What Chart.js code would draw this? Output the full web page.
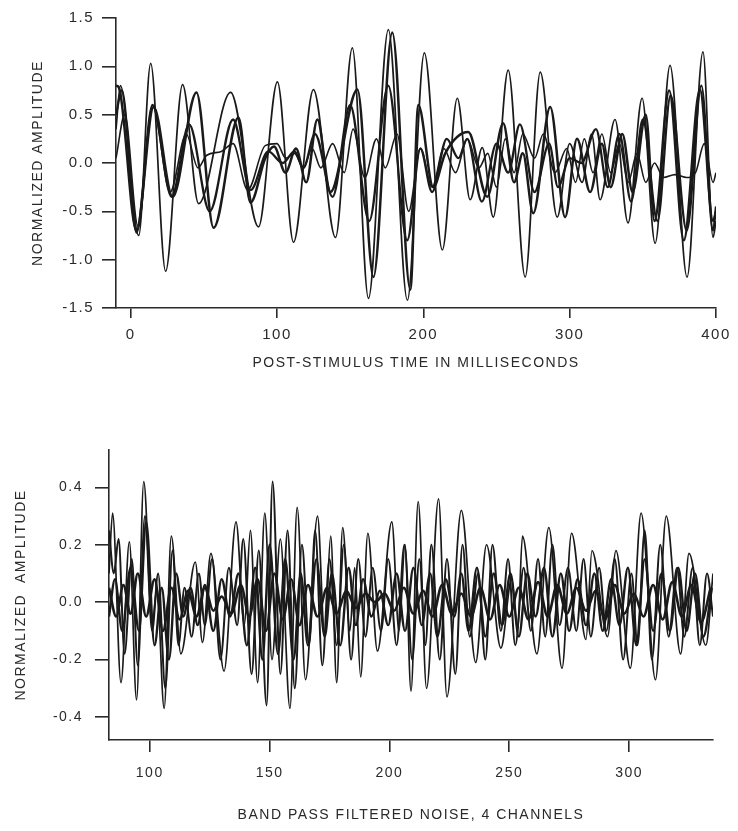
<!DOCTYPE html>
<html>
<head>
<meta charset="utf-8">
<script src="https://cdn.jsdelivr.net/npm/chart.js@4/dist/chart.umd.min.js"></script>
<style>
  html, body { margin: 0; padding: 0; background: #fff; }
  #wrap { position: relative; width: 738px; height: 831px; }
  canvas { position: absolute; left: 0; }
  #top { top: 0; }
  #bottom { top: 385px; }
</style>
</head>
<body>
<div id="wrap">
  <canvas id="top" width="738" height="385"></canvas>
  <canvas id="bottom" width="738" height="446"></canvas>
</div>
<script>
// ---- top panel: evoked responses, 4 traces (peaks/troughs)
const topXTicks = [0, 100, 200, 300, 400];
const topYTicks = [-1.5, -1.0, -0.5, 0.0, 0.5, 1.0, 1.5];

const respA_t = [-10, -7, 5.5, 13.7, 23.9, 35.5, 46.4, 68.3, 87.4, 100.3, 111.3, 124.9, 140, 151.5, 162.5, 176.1, 189.1, 200.7, 213, 223.2, 232, 240.3, 247.8, 258, 269.6, 279.9, 291.5, 300, 308.5, 315, 320.8, 331, 339.9, 349.5, 358.4, 368.6, 380.2, 391.1, 398, 400];
const respA_v = [.35, .8, -.75, 1.03, -1.12, .81, -.42, .73, -.66, .84, -.82, .76, -.77, 1.19, -1.4, 1.38, -1.42, 1.14, -.9, .67, -.38, .16, -.56, .96, -1.18, .94, -.56, .2, -.2, .3, -.38, .45, -.62, .67, -.83, 1.01, -1.18, 1.15, -.77, -.6];

const respB_t = [-10, -8, 4, 15.7, 28.7, 45, 56.7, 73.7, 81.9, 92, 98, 105.8, 113, 120, 127.6, 136.5, 155, 165.9, 178.8, 191.1, 196.6, 206.8, 215, 230.7, 243.7, 254.6, 262, 268, 275.1, 286.7, 296.9, 305, 314, 322, 328, 336, 343, 352, 358, 368, 378, 389, 398, 400];
const respB_v = [.8, .78, -.7, .58, -.35, .73, -.67, .47, -.41, .05, .17, -.1, .15, -.2, .45, -.3, .76, -1.18, 1.35, -1.31, .6, -.25, .1, .32, -.35, .41, -.2, .1, -.52, .58, -.56, .25, -.3, .2, -.25, .3, -.3, .5, -.6, .75, -.8, .76, -.6, -.5];

const respC_t = [-10, -4, 5, 15, 27, 38, 46, 52, 62, 70, 80, 92, 100, 106, 112, 118, 124, 130, 138, 146, 152, 160, 168, 174, 182, 190, 198, 206, 214, 222, 230, 238, 244, 250, 256, 262, 268, 276, 282, 290, 298, 304, 310, 316, 322, 328, 334, 340, 346, 352, 358, 364, 372, 380, 386, 392, 398, 400];
const respC_v = [.05, .5, -.65, .6, -.3, .3, -.05, .08, .12, .2, -.28, .18, .2, .05, .1, -.05, .15, -.05, .2, -.1, .35, -.15, .25, -.05, .3, -.5, .15, -.25, .15, -.1, .25, -.05, .1, -.25, .25, -.1, .3, .05, .3, -.1, .15, -.2, .25, -.1, .3, -.1, .2, -.2, .1, -.2, 0, -.15, -.12, -.15, -.1, .2, -.2, -.1];

const respD_t = [-10, -6, 4, 15, 28, 40, 54, 70, 82, 94, 104, 112, 118, 126, 138, 150, 163, 176, 189, 198, 206, 216, 224, 230, 240, 250, 258, 266, 276, 286, 292, 300, 308, 318, 326, 334, 342, 350, 360, 369, 380, 390, 398, 400];
const respD_v = [.5, .75, -.72, .6, -.35, .4, -.5, .45, -.28, .12, 0, .12, -.05, .3, -.35, .6, -.6, .8, -.8, .15, -.3, .25, .05, .25, -.4, .2, -.1, .4, -.3, .2, -.25, .05, 0, .35, -.25, .3, -.4, .45, -.6, .7, -.7, .8, -.7, -.45];

// ---- bottom panel: band pass filtered noise, 4 channels
const noiseXTicks = [100, 150, 200, 250, 300];
const noiseYTicks = [-0.4, -0.2, 0.0, 0.2, 0.4];

const noiseA_t = [83, 84.5, 88, 91.5, 94.5, 97.5, 101, 103, 106, 109, 113, 119, 122, 125.5, 131, 136, 139.5, 142, 145, 148, 151, 154.5, 158.5, 161.5, 165, 170, 173, 175.5, 178, 180.5, 183.5, 185.5, 188, 191, 195, 201, 204, 206.5, 209, 212, 215.5, 220.5, 224, 230, 236, 240.5, 246.5, 251, 253.5, 255.5, 261.5, 266.5, 272, 276, 282, 284.5, 291, 294.5, 300.5, 305, 311, 315.5, 321.5, 325, 332, 335];
const noiseA_v = [.1, .31, -.28, .21, -.34, .42, -.08, .05, -.37, .23, -.18, .14, -.14, .17, -.24, .28, -.08, .25, -.28, .31, -.2, .22, -.37, .33, -.27, .30, -.12, .23, -.28, .26, -.1, .12, -.26, .24, -.17, .28, -.1, .2, -.31, .35, -.3, .36, -.33, .32, -.21, .2, -.16, .08, -.1, .23, -.18, .26, -.23, .24, -.13, .18, -.12, .18, -.23, .31, -.27, .30, -.18, .17, -.15, .1];

const noiseB_t = [83, 85, 87, 89.5, 92.5, 95, 98, 101, 103.5, 106.5, 109.5, 112, 114.5, 117.5, 120.5, 123, 126, 129.5, 133, 136.5, 139, 142.5, 145.5, 148.75, 151.25, 154.5, 157.5, 160.5, 163.5, 166.5, 169, 172, 175, 178, 181, 184, 187, 190, 193, 196.5, 199.5, 203, 206.25, 209.5, 212.5, 215, 217.5, 221, 224, 227.5, 230.5, 233.5, 237, 240, 243, 246.5, 249.5, 252.5, 256, 259, 262, 265, 268, 271, 274.5, 278, 281, 284, 287.5, 290.5, 294, 297.5, 301, 303.5, 306.5, 309.5, 313, 316.5, 320, 323, 326.5, 329.5, 332.5, 335];
const noiseB_v = [.25, .1, .22, -.18, .15, -.22, .3, -.1, .1, -.3, .18, -.15, .05, -.12, .1, -.08, .15, -.2, .12, -.08, .22, -.25, .18, -.36, .42, -.25, .25, -.3, .2, -.15, .25, -.22, .15, -.15, .2, -.2, .15, -.12, .12, -.1, .15, -.15, .2, -.2, .15, -.15, .2, -.2, .15, -.25, .2, -.12, .1, -.2, .2, -.1, .15, -.15, .12, -.1, .15, -.12, .2, -.08, .12, -.1, .15, -.12, .12, -.1, .15, -.2, .1, -.15, .25, -.2, .2, -.12, .12, -.12, .12, -.15, .1, -.05];

const noiseC_t = [83, 85.5, 88.5, 92, 95.5, 98.5, 102, 105, 108, 111, 114, 117, 120, 123, 126.5, 130, 133.5, 137, 140.5, 144, 147, 150, 153.5, 156.5, 160, 163, 166, 169.5, 173, 176, 179.5, 183, 186, 189, 192.5, 196, 199.5, 203, 206.5, 210, 213.5, 217, 220, 223.5, 227, 230, 233, 236.5, 240, 243.5, 247, 250.5, 254, 257.5, 261, 264.5, 268, 271.5, 275, 278.5, 282, 285.5, 289, 292.5, 296, 299.5, 303, 306.5, 310, 313.5, 317, 320.5, 324, 327.5, 331, 334.5];
const noiseC_v = [-.05, .08, -.1, .12, -.1, .28, -.15, .05, -.2, .1, -.05, .05, -.08, .06, -.1, .08, -.05, .1, -.15, .12, -.2, .2, -.18, .15, -.2, .1, -.15, .15, -.12, .1, -.15, .12, -.08, .08, -.05, .04, -.08, .1, -.1, .12, -.08, .1, -.12, .08, -.05, .1, -.1, .12, -.12, .1, -.08, .1, -.12, .1, -.05, .12, -.12, .1, -.1, .08, -.08, .1, -.1, .08, -.08, .12, -.15, .15, -.1, .1, -.1, .12, -.1, .1, -.12, .05];

const noiseD_t = [83, 86, 89, 92, 95, 98.5, 102, 105.5, 109, 112.5, 116, 119.5, 123, 126.5, 130, 134, 138, 141.5, 145, 148.5, 152, 155.5, 159, 162.5, 166, 170, 174, 178, 182, 186, 190, 194, 198, 202, 206, 210, 214, 218, 222, 226, 230, 234, 238, 242, 246, 250, 254, 258, 262, 266, 270, 274, 278, 282, 286, 290, 294, 298, 302, 306, 310, 314, 318, 322, 326, 330, 334];
const noiseD_v = [.05, -.05, .06, -.04, .1, -.05, .08, -.1, .05, -.06, .04, -.05, .05, -.03, .02, -.04, .06, -.05, .08, -.1, .1, -.06, .08, -.08, .06, -.05, .05, -.04, .04, -.02, .03, 0, .03, -.03, .05, -.04, .04, -.05, .06, -.04, .03, -.05, .05, -.06, .06, -.05, .05, -.06, .07, -.05, .06, -.04, .05, -.03, .04, -.06, .06, -.04, .03, -.05, .06, -.06, .07, -.05, .06, -.07, .05];

const INK = '#1a1a1a';
const TEXT = '#2a2a2a';
const FONT = 'Liberation Sans, Arial';

function pts(t, v) { return t.map((x, i) => ({ x, y: v[i] })); }

function trace(t, v, width) {
  return {
    data: pts(t, v),
    borderColor: INK,
    borderWidth: width,
    pointRadius: 0,
    fill: false,
    cubicInterpolationMode: 'monotone'
  };
}

// scanned lettering is quite wide, so space the glyphs out a bit
const spacing = {
  id: 'spacing',
  beforeDraw(chart) { chart.ctx.letterSpacing = '1.5px'; }
};

function axes(o) {
  const axisLine = { display: true, color: TEXT, width: 1.6 };
  return {
    x: {
      type: 'linear', min: o.xMin, max: o.xMax,
      afterBuildTicks: s => { s.ticks = o.xTicks.map(value => ({ value })); },
      afterFit: s => { s.height = o.xHeight; },
      border: axisLine,
      grid: { drawOnChartArea: false, drawTicks: true, tickLength: o.xTickLen, color: TEXT, lineWidth: 1.6 },
      ticks: { autoSkip: false, maxRotation: 0, padding: o.xPad, color: TEXT, font: { family: FONT, size: o.tickSize } },
      title: { display: true, text: o.xTitle, color: TEXT, font: { family: FONT, size: 14 }, padding: { top: 0, bottom: o.xTitlePad } }
    },
    y: {
      type: 'linear', min: o.yMin, max: o.yMax,
      afterBuildTicks: s => { s.ticks = o.yTicks.map(value => ({ value })); },
      afterFit: s => { s.width = o.yWidth; },
      border: axisLine,
      grid: { drawOnChartArea: false, drawTicks: true, tickLength: 14, color: TEXT, lineWidth: 1.6 },
      ticks: { autoSkip: false, padding: o.yPad, color: TEXT, font: { family: FONT, size: o.tickSize }, callback: v => Number(v).toFixed(1) },
      title: { display: true, text: o.yTitle, color: TEXT, font: { family: FONT, size: 14 }, padding: { top: o.yTitlePad, bottom: 0 } }
    }
  };
}

const common = {
  responsive: false,
  animation: false,
  devicePixelRatio: 1,
  plugins: { legend: { display: false }, tooltip: { enabled: false } }
};

new Chart(document.getElementById('top'), {
  type: 'line',
  data: {
    datasets: [
      trace(respA_t, respA_v, 1.7),
      trace(respB_t, respB_v, 2.5),
      trace(respC_t, respC_v, 1.6),
      trace(respD_t, respD_v, 2.3)
    ]
  },
  options: {
    ...common,
    layout: { padding: { top: 18, right: 22, left: 0, bottom: 0 } },
    scales: axes({
      xMin: -10, xMax: 400, xTicks: topXTicks, xHeight: 77, xTickLen: 10, xPad: 8,
      xTitle: 'POST-STIMULUS TIME IN MILLISECONDS', xTitlePad: 13,
      yMin: -1.5, yMax: 1.5, yTicks: topYTicks, yWidth: 116, yPad: 8,
      yTitle: 'NORMALIZED AMPLITUDE', yTitlePad: 30, tickSize: 15
    })
  },
  plugins: [spacing]
});

new Chart(document.getElementById('bottom'), {
  type: 'line',
  data: {
    datasets: [
      trace(noiseA_t, noiseA_v, 1.7),
      trace(noiseB_t, noiseB_v, 2.0),
      trace(noiseC_t, noiseC_v, 2.4),
      trace(noiseD_t, noiseD_v, 2.6)
    ]
  },
  options: {
    ...common,
    layout: { padding: { top: 65, right: 25, left: 0, bottom: 0 } },
    scales: axes({
      xMin: 83, xMax: 335, xTicks: noiseXTicks, xHeight: 91, xTickLen: 12, xPad: 13,
      xTitle: 'BAND PASS FILTERED NOISE, 4 CHANNELS', xTitlePad: 7,
      yMin: -0.48, yMax: 0.53, yTicks: noiseYTicks, yWidth: 109, yPad: 12,
      yTitle: 'NORMALIZED  AMPLITUDE', yTitlePad: 13, tickSize: 14
    })
  },
  plugins: [spacing]
});
</script>
</body>
</html>
